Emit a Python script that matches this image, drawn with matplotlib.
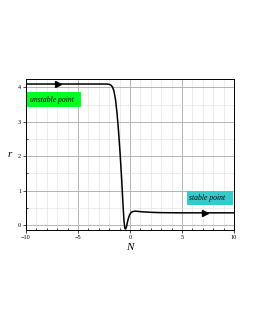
import matplotlib
matplotlib.use("Agg")
import matplotlib.pyplot as plt
from matplotlib.patches import Rectangle
import numpy as np

N_vals = [-10, -4, -3, -2.5, -2.2, -2.0, -1.85, -1.7, -1.55, -1.4, -1.25, -1.1, -0.95, -0.8, -0.68,
          -0.58, -0.5, -0.42, -0.34, -0.25, -0.15, -0.05, 0.1, 0.3, 0.5, 0.8, 1.2, 2, 3, 5, 10]
r_vals = [4.1, 4.1, 4.1, 4.1, 4.1, 4.09, 4.07, 4.02, 3.9, 3.65, 3.25, 2.7, 2.05, 1.3, 0.6,
          0.1, -0.1, -0.12, -0.05, 0.08, 0.2, 0.29, 0.36, 0.39, 0.4, 0.39, 0.38, 0.365, 0.355, 0.35, 0.35]
arrow_N = [-6.9, 7.2]
xticks = [-10, -5, 0, 5, 10]
yticks = [0, 1, 2, 3, 4]
labels = ['unstable point', 'stable point']

plt.rcParams['font.family'] = ['Liberation Serif', 'DejaVu Serif']
fig = plt.figure(figsize=(2.55, 3.3), dpi=100)
ax = fig.add_axes([0.102, 0.303, 0.816, 0.458])

ax.plot(N_vals, r_vals, color='black', lw=1.1, zorder=3)
for xa in arrow_N:
    ya = np.interp(xa, N_vals, r_vals)
    ax.plot([xa], [ya], marker='>', color='black', ms=4, zorder=4)

ax.set_xlim(-10, 10)
ax.set_ylim(-0.15, 4.25)
ax.set_xticks(xticks)
ax.set_yticks(yticks)
ax.set_xticks(np.arange(-10, 11, 1), minor=True)
ax.set_yticks(np.arange(0, 4.01, 0.5), minor=True)
ax.grid(which='major', color='#b5b5b5', lw=0.7)
ax.grid(which='minor', color='#e4e4e4', lw=0.5)
ax.set_axisbelow(True)
ax.tick_params(which='major', labelsize=4.5, length=2, width=0.5, pad=1.5)
ax.tick_params(which='minor', length=1.5, width=0.5, direction='in')
for s in ax.spines.values():
    s.set_linewidth(0.7)

ax.set_xlabel('N', fontsize=8, style='italic', labelpad=2)
ax.set_ylabel('r', fontsize=8, style='italic', rotation=0, labelpad=6, va='center')

# label boxes
ax.add_patch(Rectangle((-9.87, 3.42), 5.13, 0.45, fc='#00ff22', ec='none', zorder=5))
ax.text(-9.6, 3.645, labels[0], fontsize=5.5, style='italic', va='center', ha='left', zorder=6)
ax.add_patch(Rectangle((5.51, 0.58), 4.42, 0.41, fc='#33cccc', ec='none', zorder=5))
ax.text(5.7, 0.785, labels[1], fontsize=5.5, style='italic', va='center', ha='left', zorder=6)

fig.savefig('out.png', dpi=100)
